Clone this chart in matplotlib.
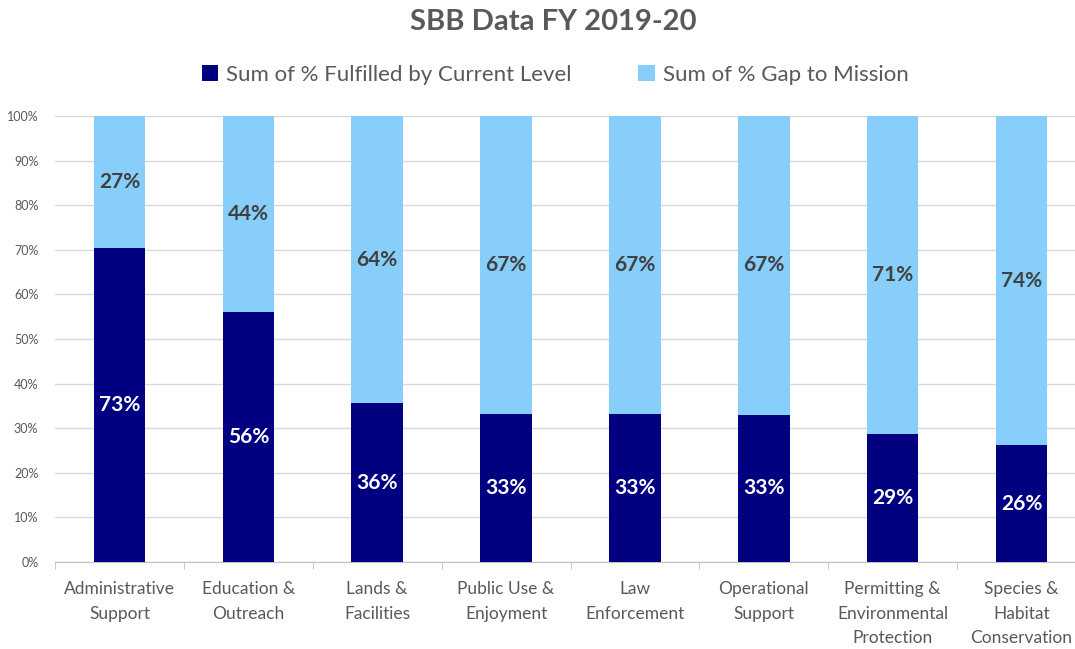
import matplotlib.pyplot as plt
import numpy as np

plt.rcParams['font.family'] = ['Lato', 'DejaVu Sans']

categories = ['Administrative\nSupport', 'Education &\nOutreach', 'Lands &\nFacilities',
              'Public Use &\nEnjoyment', 'Law\nEnforcement', 'Operational\nSupport',
              'Permitting &\nEnvironmental\nProtection', 'Species &\nHabitat\nConservation']
fulfilled = [70.5, 56.0, 35.6, 33.2, 33.1, 33.0, 28.7, 26.2]   # bar heights as drawn
gap = [100 - v for v in fulfilled]
fulfilled_labels = ['73%', '56%', '36%', '33%', '33%', '33%', '29%', '26%']
gap_labels = ['27%', '44%', '64%', '67%', '67%', '67%', '71%', '74%']

dark = '#000080'
light = '#87CEFA'
grey = '#595959'

fig = plt.figure(figsize=(10.75, 6.49), dpi=100)
ax = fig.add_axes([55/1075, 87/649, 1031/1075, 446/649])

x = np.arange(len(categories))
w = 0.40
b1 = ax.bar(x, fulfilled, w, color=dark, label='Sum of % Fulfilled by Current Level', zorder=3)
b2 = ax.bar(x, gap, w, bottom=fulfilled, color=light, label='Sum of % Gap to Mission', zorder=3)

for i in range(len(x)):
    ax.text(x[i], fulfilled[i] / 2, fulfilled_labels[i], ha='center', va='center',
            color='white', fontsize=15, fontweight='bold', zorder=4)
    ax.text(x[i], fulfilled[i] + gap[i] / 2, gap_labels[i], ha='center', va='center',
            color='#404040', fontsize=15, fontweight='bold', zorder=4)

ax.set_xlim(-0.5, len(x) - 0.5)
ax.set_ylim(0, 100)
ax.set_yticks(np.arange(0, 101, 10))
ax.set_yticklabels([f'{v}%' for v in range(0, 101, 10)])
ax.yaxis.grid(True, color='#D9D9D9', lw=1, zorder=0)
ax.tick_params(axis='y', length=0, labelsize=9, labelcolor=grey, pad=12)

ax.set_xticks(x)
ax.set_xticklabels(categories, linespacing=1.65)
ax.tick_params(axis='x', which='major', length=0, labelsize=12.5, labelcolor=grey, pad=14)
ax.set_xticks(np.arange(-0.5, len(x), 1), minor=True)
ax.tick_params(axis='x', which='minor', length=5, color='#BFBFBF', direction='out')

for s in ['top', 'right', 'left']:
    ax.spines[s].set_visible(False)
ax.spines['bottom'].set_color('#BFBFBF')

fig.text(553/1075, 1 - 22/649, 'SBB Data FY 2019-20', ha='center', va='center',
         fontsize=21, fontweight='bold', color='#595959')
fig.legend(handles=[b1, b2], loc='center', bbox_to_anchor=(555/1075, 1 - 75/649),
           ncol=2, frameon=False, fontsize=16, handlelength=0.75, handleheight=0.75,
           handletextpad=0.35, columnspacing=3.0, labelcolor=grey)

fig.savefig('out.png', dpi=100)
